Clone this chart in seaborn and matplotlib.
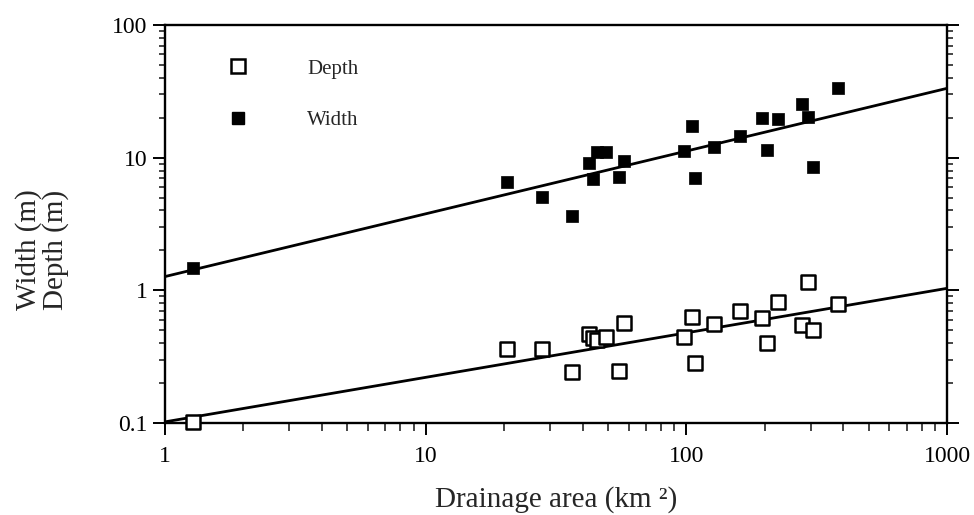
import numpy as np
import pandas as pd
import matplotlib
matplotlib.use("Agg")
import matplotlib.pyplot as plt
from matplotlib.ticker import LogLocator, NullFormatter
from matplotlib.lines import Line2D
import seaborn as sns

# ---- data ----
area = [1.28, 20.5, 27.9, 36.5, 42.2, 43.7, 45.5, 49.0, 55.4, 57.8, 98, 104.8,
        107.6, 127.6, 160, 194.4, 203.8, 224, 279, 293.6, 307, 382]
width = [1.47, 6.58, 5.08, 3.65, 9.1, 6.95, 11.0, 11.0, 7.1, 9.5, 11.3, 17.4,
         6.98, 11.96, 14.6, 19.8, 11.4, 19.5, 25.2, 20.3, 8.45, 33.3]
depth = [0.102, 0.36, 0.36, 0.244, 0.47, 0.435, 0.42, 0.445, 0.248, 0.564, 0.447, 0.633,
         0.282, 0.557, 0.698, 0.615, 0.399, 0.82, 0.55, 1.16, 0.50, 0.79]
fit_area = [1, 1000]
width_fit = [1.27, 33.3]
depth_fit = [0.102, 1.035]
x_ticks = [1, 10, 100, 1000]
x_ticklabels = ["1", "10", "100", "1000"]
y_ticks = [0.1, 1, 10, 100]
y_ticklabels = ["0.1", "1", "10", "100"]

df = pd.DataFrame({"area": area, "width": width, "depth": depth})
fit = pd.DataFrame({"area": fit_area, "width": width_fit, "depth": depth_fit})

sns.set_style("ticks")
plt.rcParams["font.family"] = ["Liberation Serif", "DejaVu Serif"]

fig = plt.figure(figsize=(9.74, 5.15), dpi=100)
ax = fig.add_axes([165 / 974, 1 - 423 / 515, (947 - 165) / 974, (423 - 25) / 515])

sns.lineplot(data=fit, x="area", y="width", color="black", linewidth=2.0, ax=ax)
sns.lineplot(data=fit, x="area", y="depth", color="black", linewidth=2.0, ax=ax)
sns.scatterplot(data=df, x="area", y="width", marker="s", s=72, color="black",
                edgecolor="black", linewidth=0.5, ax=ax, zorder=4, clip_on=False)
sns.scatterplot(data=df, x="area", y="depth", marker="s", s=95, facecolor="white",
                edgecolor="black", linewidth=1.8, ax=ax, zorder=4, clip_on=False)

ax.set_xscale("log")
ax.set_yscale("log")
ax.set_xlim(1, 1000)
ax.set_ylim(0.1, 100)
ax.set_xticks(x_ticks)
ax.set_xticklabels(x_ticklabels)
ax.set_yticks(y_ticks)
ax.set_yticklabels(y_ticklabels)
ax.xaxis.set_minor_locator(LogLocator(base=10, subs=np.arange(2, 10)))
ax.yaxis.set_minor_locator(LogLocator(base=10, subs=np.arange(2, 10)))
ax.xaxis.set_minor_formatter(NullFormatter())
ax.yaxis.set_minor_formatter(NullFormatter())

for s in ax.spines.values():
    s.set_visible(True)
    s.set_linewidth(1.7)
    s.set_color("black")
    s.set_zorder(3)

ax.tick_params(axis="both", which="major", direction="out", length=8.5, width=1.4,
               labelsize=17, colors="black")
ax.tick_params(axis="x", which="minor", direction="out", length=6, width=1.2)
ax.tick_params(axis="y", which="minor", direction="out", length=4, width=1.2)
ax.tick_params(axis="y", which="both", left=True, right=True, labelright=False, pad=4)
ax.tick_params(axis="x", which="both", bottom=True, top=False, pad=8)

ax.set_xlabel("Drainage area (km \u00b2)", fontsize=21, labelpad=14)
ax.set_ylabel("Width (m)\nDepth (m)", fontsize=21, linespacing=1.0, va="center")
ax.yaxis.set_label_coords((42 - 165) / 782, (423 - 250) / 398)

handles = [
    Line2D([], [], marker="s", linestyle="none", markersize=9.5, markerfacecolor="white",
           markeredgecolor="black", markeredgewidth=1.8, label="Depth"),
    Line2D([], [], marker="s", linestyle="none", markersize=8.5, markerfacecolor="black",
           markeredgecolor="black", label="Width"),
]
ax.legend(handles=handles, loc="upper left", frameon=False, fontsize=15,
          handlelength=1.0, handletextpad=2.8, labelspacing=1.55, borderpad=0,
          borderaxespad=0,
          bbox_to_anchor=((228 - 165) / 782, (423 - 59) / 398))

fig.savefig("out.png", dpi=100)
